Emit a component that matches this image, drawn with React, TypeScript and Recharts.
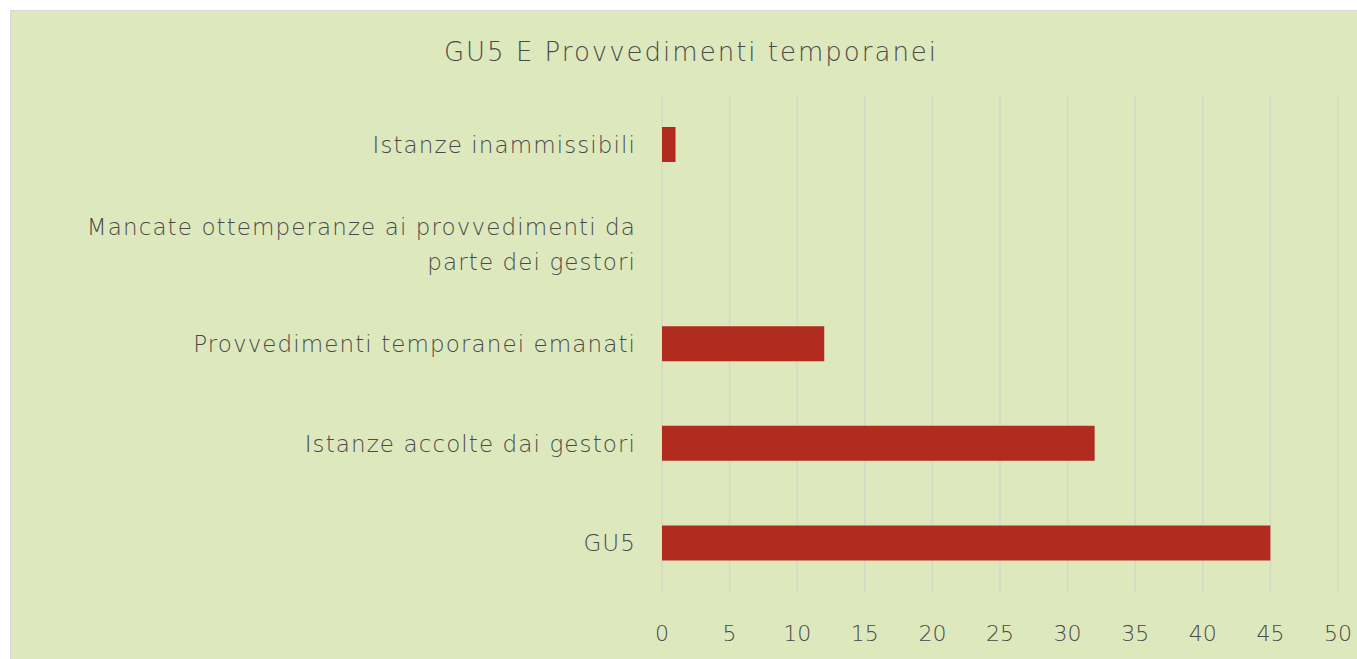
import React from "react";
import { Bar, BarChart, CartesianGrid, XAxis, YAxis } from "recharts";

const categories = [
  "Istanze inammissibili",
  "Mancate ottemperanze ai provvedimenti da parte dei gestori",
  "Provvedimenti temporanei emanati",
  "Istanze accolte dai gestori",
  "GU5",
];
const values = [1, 0, 12, 32, 45];
const xTicks = [0, 5, 10, 15, 20, 25, 30, 35, 40, 45, 50];

const data = categories.map((name, i) => ({ name, value: values[i] }));

const FONT = "'DejaVu Sans', sans-serif";
const TEXT_COLOR = "#4a4a4a";
const LABEL_SIZE = 23;
const LABEL_SPACING = 1.1;

// rough word wrap, Century Gothic is wide so the estimate includes letter spacing
const wrapLabel = (label: string, maxWidth: number) => {
  const charW = LABEL_SIZE * 0.55 + LABEL_SPACING;
  const lines: string[] = [];
  let current = "";
  label.split(" ").forEach((word) => {
    const next = current ? current + " " + word : word;
    if (next.length * charW > maxWidth && current) {
      lines.push(current);
      current = word;
    } else {
      current = next;
    }
  });
  if (current) lines.push(current);
  return lines;
};

const CategoryTick = (props: any) => {
  const { x, y, payload } = props;
  const lines = wrapLabel(String(payload.value), 610);
  const lineH = 35;
  const startY = y - ((lines.length - 1) * lineH) / 2;
  return (
    <text
      x={x - 18}
      y={startY}
      textAnchor="end"
      dominantBaseline="central"
      fill={TEXT_COLOR}
      fontSize={LABEL_SIZE}
      fontFamily={FONT}
      fontWeight={200}
      letterSpacing={LABEL_SPACING}
    >
      {lines.map((line, i) => (
        <tspan key={i} x={x - 18} y={startY + i * lineH}>
          {line}
        </tspan>
      ))}
    </text>
  );
};

export default function App() {
  return (
    <div
      style={{
        position: "absolute",
        left: 10,
        top: 10,
        width: 1347,
        height: 649,
        background: "#dee8bd",
        borderTop: "1px solid #d9d9d9",
        borderLeft: "1px solid #d9d9d9",
        boxSizing: "border-box",
      }}
    >
      <div
        style={{
          position: "absolute",
          left: 0,
          right: 0,
          top: 26,
          textAlign: "center",
          fontFamily: FONT,
          fontWeight: 200,
          fontSize: 26,
          letterSpacing: 2,
          color: TEXT_COLOR,
          paddingLeft: 14,
        }}
      >
        GU5 E Provvedimenti temporanei
      </div>
      <BarChart
        width={1346}
        height={648}
        data={data}
        layout="vertical"
        margin={{ top: 84, right: 19, bottom: 0, left: 0 }}
        barSize={35}
      >
        <CartesianGrid horizontal={false} stroke="#d5d8c6" strokeWidth={1.5} />
        <XAxis
          type="number"
          domain={[0, 50]}
          ticks={xTicks}
          axisLine={false}
          tickLine={false}
          height={66}
          tick={{ fill: TEXT_COLOR, fontSize: 22, fontFamily: FONT, fontWeight: 200 }}
          dy={24}
          interval={0}
        />
        <YAxis
          type="category"
          dataKey="name"
          width={651}
          axisLine={false}
          tickLine={false}
          tick={<CategoryTick />}
          interval={0}
        />
        <Bar dataKey="value" fill="#b12b1e" isAnimationActive={false} />
      </BarChart>
    </div>
  );
}
